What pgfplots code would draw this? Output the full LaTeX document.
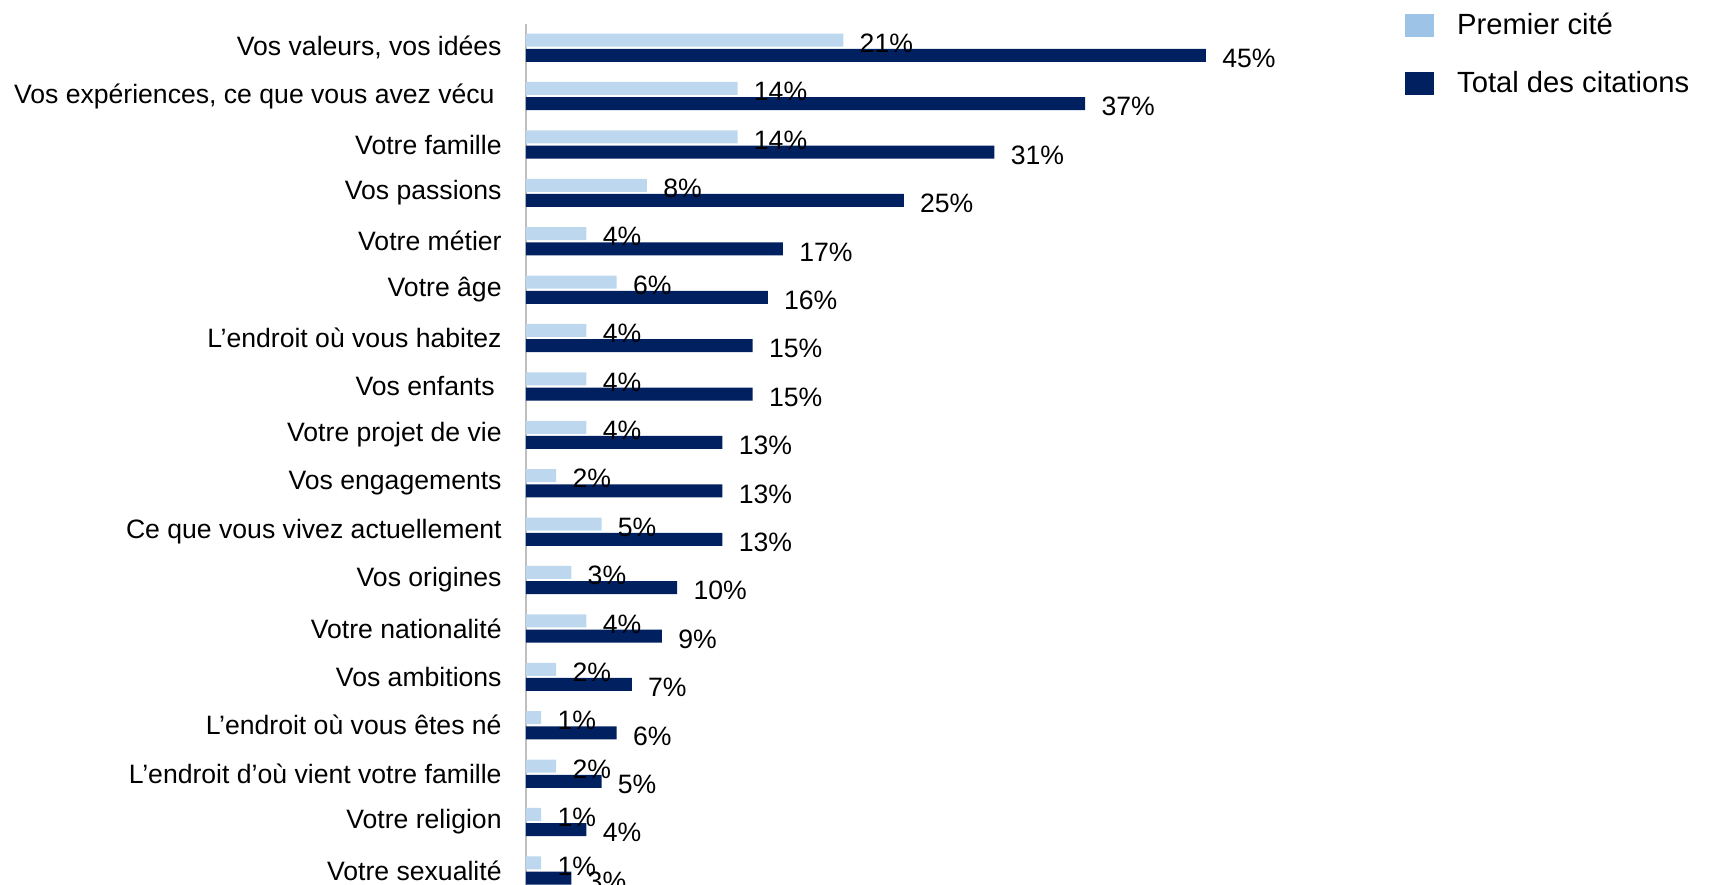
\documentclass[border=0pt]{standalone}
\usepackage{fontspec}
\setmainfont{Liberation Sans}
\usepackage{pgfplots}
\pgfplotsset{compat=1.18}
\definecolor{lightb}{HTML}{BDD7EE}
\definecolor{legb}{HTML}{9DC3E6}
\definecolor{darkb}{HTML}{002060}
\definecolor{axgray}{HTML}{BFBFBF}
\begin{document}
\begin{tikzpicture}
\useasboundingbox (-263bp,0) rectangle (594bp,442.5bp);
\begin{axis}[
  at={(0,0)}, anchor=south west,
  scale only axis, width=340bp, height=430.75bp,
  xmin=0, xmax=45, ymin=-0.5, ymax=17.3,
  y dir=reverse,
  xbar, bar width=6.5bp,
  axis x line=none,
  axis y line*=left,
  y axis line style={draw=axgray, line width=1bp},
  ytick={0,...,17},
  yticklabels={{Vos valeurs, vos idées},{Vos expériences, ce que vous avez vécu\kern3.5bp},{Votre famille},{Vos passions},{Votre métier},{Votre âge},{L’endroit où vous habitez},{Vos enfants\kern3.5bp},{Votre projet de vie},{Vos engagements},{Ce que vous vivez actuellement},{Vos origines},{Votre nationalité},{Vos ambitions},{L’endroit où vous êtes né},{L’endroit d’où vient votre famille},{Votre religion},{Votre sexualité}},
  major tick length=0pt,
  yticklabel style={font=\fontsize{13.3bp}{16bp}\selectfont, anchor=east, inner sep=0pt, xshift=-12bp},
  clip=false,
  point meta=x,
  nodes near coords={\pgfmathprintnumber[assume math mode=true]{\pgfplotspointmeta}\%},
  nodes near coords style={font=\fontsize{13.3bp}{16bp}\selectfont, anchor=west, inner sep=0pt, xshift=8bp, yshift=-1.5bp, text=black},
  legend style={at={(axis description cs:1.2829,1.0363)}, anchor=north west, draw=none, fill=none,
    font=\fontsize{14.6bp}{17bp}\selectfont, nodes={inner sep=0pt},
    cells={anchor=west}},
]
\addplot[fill=lightb, draw=none, bar shift=3.8bp,
  legend image code/.code={\fill[legb] (0bp,-5.75bp) rectangle (14.75bp,5.75bp); \path (26.25bp,-14.5bp) (26.25bp,14.5bp);}]
  coordinates {(21,0) (14,1) (14,2) (8,3) (4,4) (6,5) (4,6) (4,7) (4,8) (2,9) (5,10) (3,11) (4,12) (2,13) (1,14) (2,15) (1,16) (1,17)};
\addlegendentry{Premier cité}
\addplot[fill=darkb, draw=none, bar shift=-3.8bp,
  legend image code/.code={\fill[darkb] (0bp,-5.75bp) rectangle (14.75bp,5.75bp); \path (26.25bp,-14.5bp) (26.25bp,14.5bp);}]
  coordinates {(45,0) (37,1) (31,2) (25,3) (17,4) (16,5) (15,6) (15,7) (13,8) (13,9) (13,10) (10,11) (9,12) (7,13) (6,14) (5,15) (4,16) (3,17)};
\addlegendentry{Total des citations}
\end{axis}
\end{tikzpicture}
\end{document}
